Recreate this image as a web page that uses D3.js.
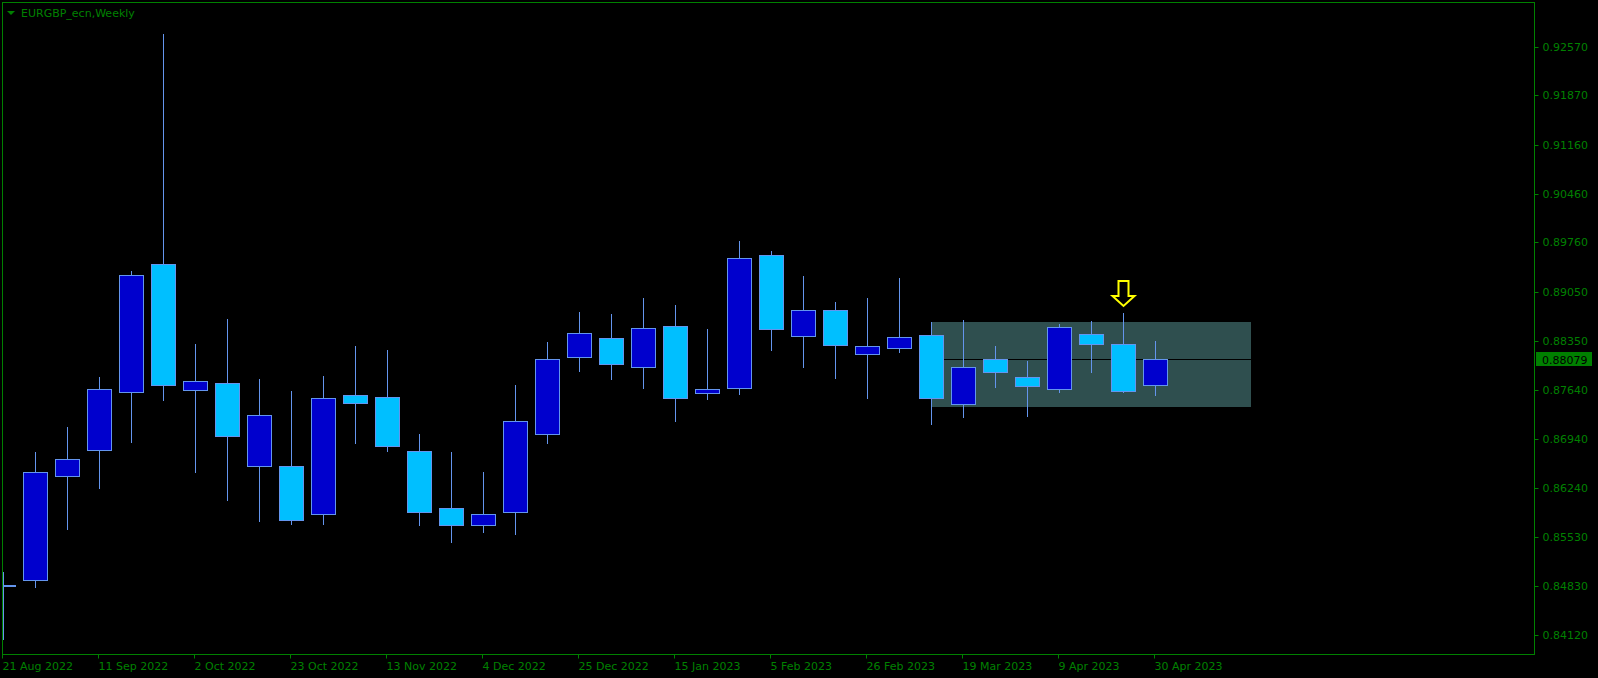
<!DOCTYPE html>
<html>
<head>
<meta charset="utf-8">
<script src="https://cdn.jsdelivr.net/npm/d3@7"></script>
<style>
  html, body { margin: 0; padding: 0; background: #000; }
  svg { display: block; }
  text { font-family: "DejaVu Sans", Verdana, sans-serif; }
</style>
</head>
<body>
<svg id="chart" width="1598" height="678"></svg>
<script>
// ---- data ----
const dates = ["21 Aug 2022","28 Aug 2022","4 Sep 2022","11 Sep 2022","18 Sep 2022","25 Sep 2022",
  "2 Oct 2022","9 Oct 2022","16 Oct 2022","23 Oct 2022","30 Oct 2022","6 Nov 2022","13 Nov 2022",
  "20 Nov 2022","27 Nov 2022","4 Dec 2022","11 Dec 2022","18 Dec 2022","25 Dec 2022","1 Jan 2023",
  "8 Jan 2023","15 Jan 2023","22 Jan 2023","29 Jan 2023","5 Feb 2023","12 Feb 2023","19 Feb 2023",
  "26 Feb 2023","5 Mar 2023","12 Mar 2023","19 Mar 2023","26 Mar 2023","2 Apr 2023","9 Apr 2023",
  "16 Apr 2023","23 Apr 2023","30 Apr 2023"];
const open  = [0.84845,0.84908,0.86413,0.86776,0.87611,0.89456,0.87634,0.87747,0.86544,0.86544,0.85867,0.87565,0.87536,
  0.86761,0.85942,0.85698,0.85893,0.87005,0.88110,0.88383,0.87967,0.88555,0.87602,0.87665,0.89579,0.88420,0.88785,
  0.88162,0.88248,0.88426,0.87444,0.88082,0.87823,0.87660,0.88440,0.88297,0.87717];
const high  = [0.85027,0.86748,0.87111,0.87826,0.89348,0.92755,0.88304,0.88662,0.87799,0.87628,0.87843,0.88272,0.88215,
  0.87009,0.86750,0.86463,0.87713,0.88330,0.88761,0.88732,0.88962,0.88861,0.88517,0.89780,0.89637,0.89278,0.88904,
  0.88962,0.89249,0.88617,0.88646,0.88272,0.88057,0.88588,0.88631,0.88746,0.88344];
const low   = [0.84070,0.84818,0.85652,0.86236,0.86901,0.87503,0.86469,0.86067,0.85766,0.85710,0.85710,0.86884,0.86769,
  0.85707,0.85463,0.85606,0.85577,0.86884,0.87918,0.87803,0.87674,0.87200,0.87516,0.87588,0.88215,0.87975,0.87817,
  0.87530,0.88191,0.87157,0.87257,0.87688,0.87272,0.87616,0.87904,0.87616,0.87573];
const close = [0.84838,0.86459,0.86657,0.87651,0.89286,0.87718,0.87764,0.86975,0.87276,0.85777,0.87520,0.87458,0.86841,
  0.85893,0.85707,0.85856,0.87191,0.88082,0.88455,0.88018,0.88527,0.87530,0.87651,0.89532,0.88521,0.88785,0.88291,
  0.88268,0.88397,0.87530,0.87967,0.87904,0.87702,0.88541,0.88306,0.87631,0.88079];
const yTickValues = [0.92570,0.91870,0.91160,0.90460,0.89760,0.89050,0.88350,0.87640,0.86940,0.86240,0.85530,0.84830,0.84120];
const xTickIndex  = [0,3,6,9,12,15,18,21,24,27,30,33,36];
const xTickLabels = ["21 Aug 2022","11 Sep 2022","2 Oct 2022","23 Oct 2022","13 Nov 2022","4 Dec 2022","25 Dec 2022",
  "15 Jan 2023","5 Feb 2023","26 Feb 2023","19 Mar 2023","9 Apr 2023","30 Apr 2023"];
const bidPrice = 0.88079;
const title = "EURGBP_ecn,Weekly";
const rangeBox = {from: 29, to: 39, top: 0.88617, bottom: 0.87401};
const arrowIndex = 35;

// ---- layout ----
const W = 1598, H = 678;
const plot = {left: 2.5, top: 2.5, right: 1534.5, bottom: 654.5};
const green = "#008000";
const fontFam = "'DejaVu Sans', Verdana, sans-serif";

const x = d3.scaleLinear().domain([0, 36]).range([3.3, 1155.3]);
const y = d3.scaleLinear().domain([0.84120, 0.92570]).range([635.2, 46.7]);
const px = v => Math.round(v);

const svg = d3.select("#chart");
svg.append("rect").attr("width", W).attr("height", H).attr("fill", "#000");

svg.append("defs").append("clipPath").attr("id", "plotclip")
  .append("rect").attr("x", 3).attr("y", 3).attr("width", plot.right - 3).attr("height", plot.bottom - 3);

const g = svg.append("g").attr("clip-path", "url(#plotclip)");

// range rectangle (background)
g.append("rect")
  .attr("x", px(x(rangeBox.from)))
  .attr("y", px(y(rangeBox.top)))
  .attr("width", px(x(rangeBox.to)) - px(x(rangeBox.from)))
  .attr("height", px(y(rangeBox.bottom)) - px(y(rangeBox.top)))
  .attr("fill", "#2F4F4F");

// bid line
g.append("line")
  .attr("x1", plot.left).attr("x2", plot.right)
  .attr("y1", px(y(bidPrice)) + 0.5).attr("y2", px(y(bidPrice)) + 0.5)
  .attr("stroke", "#000").attr("stroke-width", 1);

const candles = dates.map((d, i) => ({i, o: open[i], h: high[i], l: low[i], c: close[i]}));
const wickColor = "#6495ED";

// wicks
g.selectAll("line.wick").data(candles).enter().append("line")
  .attr("class", "wick")
  .attr("x1", d => px(x(d.i)) + 0.5).attr("x2", d => px(x(d.i)) + 0.5)
  .attr("y1", d => px(y(d.h))).attr("y2", d => px(y(d.l)) + 1)
  .attr("stroke", wickColor).attr("stroke-width", 1);

// bodies
g.selectAll("rect.body").data(candles).enter().append("rect")
  .attr("class", "body")
  .attr("x", d => px(x(d.i)) - 12 + 0.5)
  .attr("y", d => px(y(Math.max(d.o, d.c))) + 0.5)
  .attr("width", 24)
  .attr("height", d => Math.max(1, px(y(Math.min(d.o, d.c))) - px(y(Math.max(d.o, d.c)))))
  .attr("fill", d => d.c > d.o ? "#0000CD" : "#00BFFF")
  .attr("stroke", wickColor).attr("stroke-width", 1);

// arrow above candle
const ax = px(x(arrowIndex)) + 0.5;
const aTip = px(y(high[arrowIndex])) - 7;
const arrowPts = [
  [ax - 5, aTip - 25], [ax + 5, aTip - 25], [ax + 5, aTip - 10], [ax + 11, aTip - 10],
  [ax, aTip], [ax - 11, aTip - 10], [ax - 5, aTip - 10]
];
g.append("polygon")
  .attr("points", arrowPts.map(p => p.join(",")).join(" "))
  .attr("fill", "#000").attr("stroke", "#FFFF00").attr("stroke-width", 2)
  .attr("stroke-linejoin", "miter");

// frame
svg.append("rect")
  .attr("x", plot.left).attr("y", plot.top)
  .attr("width", plot.right - plot.left).attr("height", plot.bottom - plot.top)
  .attr("fill", "none").attr("stroke", green).attr("stroke-width", 1);

// y axis
const yAxis = d3.axisRight(y).tickValues(yTickValues).tickSize(4).tickSizeOuter(0)
  .tickPadding(4).tickFormat(d3.format(".5f"));
const yg = svg.append("g").attr("transform", `translate(${plot.right},0)`).call(yAxis);
yg.select(".domain").remove();
yg.selectAll(".tick").attr("transform", d => `translate(0,${px(y(d)) + 0.5})`);
yg.selectAll(".tick line").attr("stroke", green);
yg.selectAll(".tick text").attr("fill", green).attr("font-size", 11)
  .attr("font-family", fontFam);

// x axis
const xAxis = d3.axisBottom(x).tickValues(xTickIndex).tickSize(4).tickSizeOuter(0)
  .tickPadding(4).tickFormat((d, k) => xTickLabels[k]);
const xg = svg.append("g").attr("transform", `translate(0,${plot.bottom})`).call(xAxis);
xg.select(".domain").remove();
xg.selectAll(".tick").attr("transform", d => `translate(${px(x(d)) - 0.5},0)`);
xg.selectAll(".tick line").attr("stroke", green);
xg.selectAll(".tick text").attr("fill", green).attr("font-size", 11)
  .attr("text-anchor", "start").attr("x", 0)
  .attr("font-family", fontFam);

// bid label
const by = px(y(bidPrice));
svg.append("rect").attr("x", 1536).attr("y", by - 7).attr("width", 56).attr("height", 14)
  .attr("fill", green);
svg.append("text").attr("x", 1542).attr("y", by + 4.5)
  .attr("font-size", 11).attr("fill", "#000").text(d3.format(".5f")(bidPrice));

// title
svg.append("polygon").attr("points", "7,11 15,11 11,15").attr("fill", green);
svg.append("text").attr("x", 21).attr("y", 17).attr("font-size", 11).attr("fill", green).text(title);
</script>
</body>
</html>
